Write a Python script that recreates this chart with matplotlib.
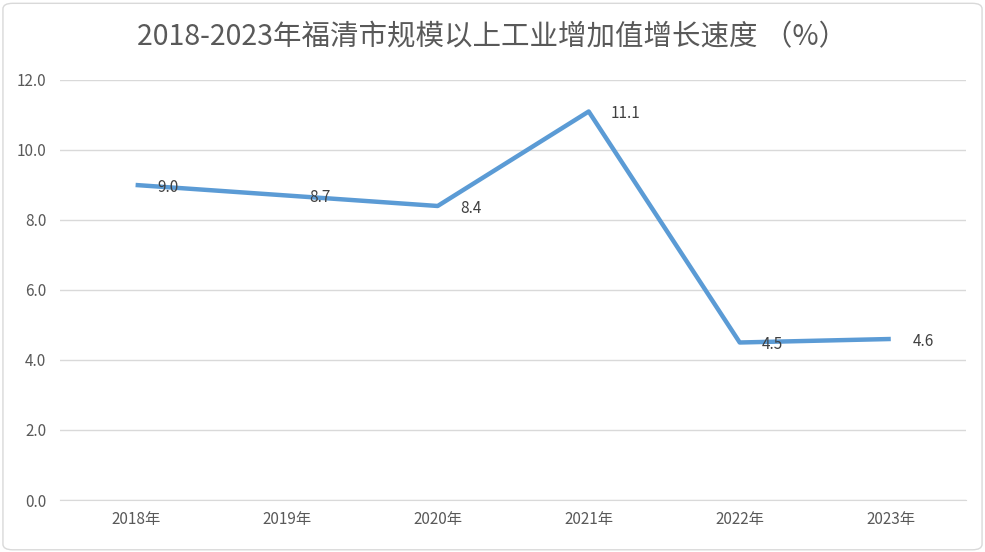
import matplotlib.pyplot as plt
from matplotlib.patches import FancyBboxPatch

plt.rcParams['font.family'] = ['Noto Sans CJK SC', 'DejaVu Sans']

# 数据
years = ['2018年', '2019年', '2020年', '2021年', '2022年', '2023年']
growth = [9.0, 8.7, 8.4, 11.1, 4.5, 4.6]
y_ticks = [0, 2, 4, 6, 8, 10, 12]

fig = plt.figure(figsize=(9.85, 5.52), dpi=100)
ax = fig.add_axes([0.061, 0.0942, 0.92, 0.7609])

x = list(range(len(years)))
ax.plot(x, growth, color='#5B9BD5', linewidth=3.2, solid_capstyle='butt')

for xi, v in zip(x, growth):
    ax.annotate(f'{v:.1f}', (xi, v), xytext=(16, -1.5), textcoords='offset points',
                ha='left', va='center', fontsize=11, color='#404040')

ax.set_xlim(-0.5, len(years) - 0.5)
ax.set_ylim(0, 12)
ax.set_yticks(y_ticks)
ax.set_yticklabels([f'{t:.1f}' for t in y_ticks])
ax.set_xticks(x)
ax.set_xticklabels(years)
ax.grid(axis='y', color='#D9D9D9', linewidth=1)
ax.set_axisbelow(True)
for s in ['top', 'right', 'left']:
    ax.spines[s].set_visible(False)
ax.spines['bottom'].set_color('#D9D9D9')
ax.tick_params(axis='both', length=0, labelsize=11, colors='#595959')
ax.tick_params(axis='x', pad=8)
ax.tick_params(axis='y', pad=10)

fig.text(0.5, 0.932, '2018-2023年福清市规模以上工业增加值增长速度 （%）',
         ha='center', va='center', fontsize=20.5, color='#595959')

# 外框
frame = FancyBboxPatch((0.003, 0.004), 0.994, 0.99, boxstyle='round,pad=0,rounding_size=0.01',
                       transform=fig.transFigure, fill=False, edgecolor='#D9D9D9', linewidth=1)
fig.patches.append(frame)

plt.savefig('out.png', dpi=100)
plt.close()
